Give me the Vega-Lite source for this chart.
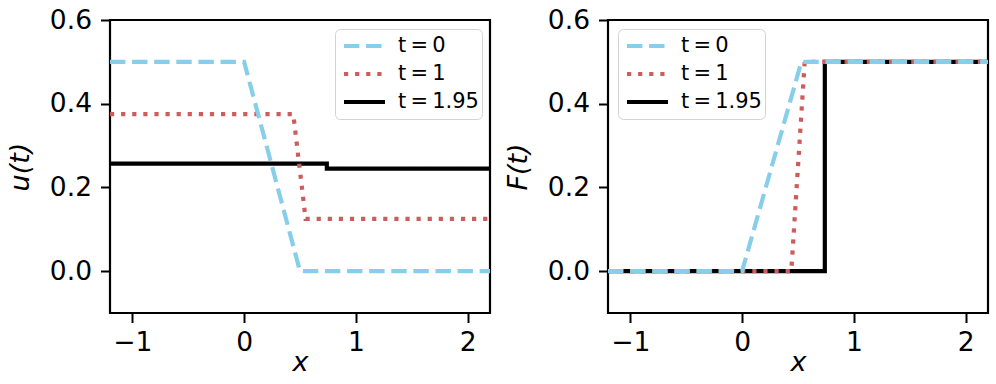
{
  "$schema": "https://vega.github.io/schema/vega-lite/v6.json",
  "padding": {"left": 5, "top": 5, "right": 5, "bottom": 5},
  "spacing": 118,
  "bounds": "flush",
  "background": "white",
  "datasets": {
    "d": [
      {"p": "u", "s": "t\u2009=\u20090", "i": 0, "x": -1.2, "y": 0.5},
      {"p": "u", "s": "t\u2009=\u20090", "i": 1, "x": 0, "y": 0.5},
      {"p": "u", "s": "t\u2009=\u20090", "i": 2, "x": 0.5, "y": 0},
      {"p": "u", "s": "t\u2009=\u20090", "i": 3, "x": 2.2, "y": 0},
      {"p": "u", "s": "t\u2009=\u20091", "i": 0, "x": -1.2, "y": 0.375},
      {"p": "u", "s": "t\u2009=\u20091", "i": 1, "x": 0.44, "y": 0.375},
      {"p": "u", "s": "t\u2009=\u20091", "i": 2, "x": 0.55, "y": 0.125},
      {"p": "u", "s": "t\u2009=\u20091", "i": 3, "x": 2.2, "y": 0.125},
      {"p": "u", "s": "t\u2009=\u20091.95", "i": 0, "x": -1.2, "y": 0.257},
      {"p": "u", "s": "t\u2009=\u20091.95", "i": 1, "x": 0.74, "y": 0.257},
      {"p": "u", "s": "t\u2009=\u20091.95", "i": 2, "x": 0.74, "y": 0.245},
      {"p": "u", "s": "t\u2009=\u20091.95", "i": 3, "x": 2.2, "y": 0.245},
      {"p": "F", "s": "t\u2009=\u20090", "i": 0, "x": -1.2, "y": 0},
      {"p": "F", "s": "t\u2009=\u20090", "i": 1, "x": 0, "y": 0},
      {"p": "F", "s": "t\u2009=\u20090", "i": 2, "x": 0.53, "y": 0.5},
      {"p": "F", "s": "t\u2009=\u20090", "i": 3, "x": 2.2, "y": 0.5},
      {"p": "F", "s": "t\u2009=\u20091", "i": 0, "x": -1.2, "y": 0},
      {"p": "F", "s": "t\u2009=\u20091", "i": 1, "x": 0.44, "y": 0},
      {"p": "F", "s": "t\u2009=\u20091", "i": 2, "x": 0.56, "y": 0.5},
      {"p": "F", "s": "t\u2009=\u20091", "i": 3, "x": 2.2, "y": 0.5},
      {"p": "F", "s": "t\u2009=\u20091.95", "i": 0, "x": -1.2, "y": 0},
      {"p": "F", "s": "t\u2009=\u20091.95", "i": 1, "x": 0.74, "y": 0},
      {"p": "F", "s": "t\u2009=\u20091.95", "i": 2, "x": 0.74, "y": 0.5},
      {"p": "F", "s": "t\u2009=\u20091.95", "i": 3, "x": 2.2, "y": 0.5}
    ]
  },
  "data": {"name": "d"},
  "config": {
    "font": "DejaVu Sans",
    "view": {"stroke": "black", "strokeWidth": 2.2},
    "axis": {
      "domain": false,
      "grid": false,
      "ticks": true,
      "tickColor": "black",
      "tickWidth": 2,
      "tickSize": 9.5,
      "labelFontSize": 26.5,
      "labelColor": "black",
      "labelPadding": 9,
      "titleFontSize": 27,
      "titleColor": "black",
      "titleFontWeight": "normal",
      "titleFontStyle": "italic"
    },
    "axisX": {"labelPadding": 7, "titlePadding": -7},
    "axisY": {"titlePadding": 15},
    "legend": {
      "title": null,
      "orient": "none",
      "symbolType": "stroke",
      "symbolSize": 1681,
      "symbolStrokeWidth": 4,
      "symbolOffset": 4,
      "labelFontSize": 21,
      "labelColor": "black",
      "labelOffset": 11,
      "padding": 3,
      "clipHeight": 28,
      "rowPadding": 0,
      "fillColor": "white",
      "strokeColor": "#d3d3d3",
      "cornerRadius": 5
    }
  },
  "resolve": {
    "scale": {"color": "independent", "strokeDash": "independent"},
    "legend": {"color": "independent", "strokeDash": "independent"}
  },
  "hconcat": [
    {
      "width": 380,
      "height": 293,
      "transform": [{"filter": "datum.p == 'u'"}],
      "encoding": {
        "x": {"field": "x", "type": "quantitative", "scale": {"domain": [-1.2, 2.2], "nice": false, "zero": false}, "axis": {"values": [-1, 0, 1, 2], "format": "d", "title": "x"}},
        "y": {"field": "y", "type": "quantitative", "scale": {"domain": [-0.1, 0.6], "nice": false, "zero": false}, "axis": {"values": [0, 0.2, 0.4, 0.6], "format": ".1f", "title": "u(t)"}},
        "color": {"field": "s", "type": "nominal", "scale": {"domain": ["t\u2009=\u20090", "t\u2009=\u20091", "t\u2009=\u20091.95"], "range": ["#87ceeb", "#cd5c5c", "#000000"]}, "legend": {"legendX": 225, "legendY": 9}},
        "strokeDash": {"field": "s", "type": "nominal", "scale": {"domain": ["t\u2009=\u20090", "t\u2009=\u20091", "t\u2009=\u20091.95"], "range": [[15.4, 6.7], [4.2, 6.9], [1, 0]]}, "legend": {"legendX": 225, "legendY": 9}},
        "order": {"field": "i", "type": "quantitative"}
      },
      "layer": [
        {"transform": [{"filter": "datum.s == 't\u2009=\u20091.95'"}], "mark": {"type": "line", "strokeWidth": 4.2}},
        {"transform": [{"filter": "datum.s == 't\u2009=\u20091'"}], "mark": {"type": "line", "strokeWidth": 4.2}},
        {"transform": [{"filter": "datum.s == 't\u2009=\u20090'"}], "mark": {"type": "line", "strokeWidth": 4.2}}
      ]
    },
    {
      "width": 380,
      "height": 293,
      "transform": [{"filter": "datum.p == 'F'"}],
      "encoding": {
        "x": {"field": "x", "type": "quantitative", "scale": {"domain": [-1.2, 2.2], "nice": false, "zero": false}, "axis": {"values": [-1, 0, 1, 2], "format": "d", "title": "x"}},
        "y": {"field": "y", "type": "quantitative", "scale": {"domain": [-0.1, 0.6], "nice": false, "zero": false}, "axis": {"values": [0, 0.2, 0.4, 0.6], "format": ".1f", "title": "F(t)"}},
        "color": {"field": "s", "type": "nominal", "scale": {"domain": ["t\u2009=\u20090", "t\u2009=\u20091", "t\u2009=\u20091.95"], "range": ["#87ceeb", "#cd5c5c", "#000000"]}, "legend": {"legendX": 10, "legendY": 9}},
        "strokeDash": {"field": "s", "type": "nominal", "scale": {"domain": ["t\u2009=\u20090", "t\u2009=\u20091", "t\u2009=\u20091.95"], "range": [[15.4, 6.7], [4.2, 6.9], [1, 0]]}, "legend": {"legendX": 10, "legendY": 9}},
        "order": {"field": "i", "type": "quantitative"}
      },
      "layer": [
        {"transform": [{"filter": "datum.s == 't\u2009=\u20091.95'"}], "mark": {"type": "line", "strokeWidth": 4.2}},
        {"transform": [{"filter": "datum.s == 't\u2009=\u20091'"}], "mark": {"type": "line", "strokeWidth": 4.2}},
        {"transform": [{"filter": "datum.s == 't\u2009=\u20090'"}], "mark": {"type": "line", "strokeWidth": 4.2}}
      ]
    }
  ]
}
